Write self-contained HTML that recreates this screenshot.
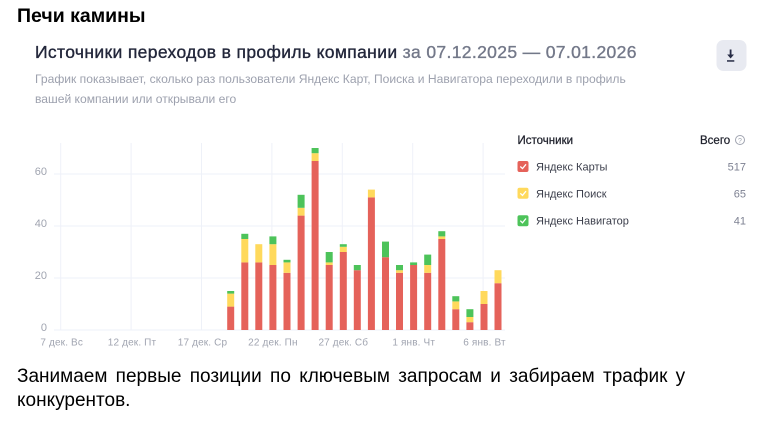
<!DOCTYPE html>
<html><head><meta charset="utf-8">
<style>
html,body{margin:0;padding:0;background:#fff;width:769px;height:423px;overflow:hidden;}
body{position:relative;font-family:"Liberation Sans","Noto Sans CJK SC",sans-serif;}
.t{position:absolute;white-space:nowrap;}
#title{left:17px;top:5px;font-size:19.5px;font-weight:bold;color:#000;line-height:22px;}
#head{left:35px;top:41px;font-size:17.5px;letter-spacing:0.35px;line-height:22px;color:#22263a;-webkit-text-stroke:0.35px #22263a;}
#head span{color:#737889;-webkit-text-stroke:0.35px #737889;}
#sub{left:35px;top:70px;font-size:12.1px;line-height:19.5px;color:#9da1ae;white-space:normal;width:640px;}
#bottom{left:17px;top:365px;font-size:19px;word-spacing:3px;line-height:24px;color:#000;white-space:normal;width:745px;}
svg{position:absolute;left:0;top:0;}
</style></head><body>
<div class="t" id="title">Печи камины</div>
<div class="t" id="head">Источники переходов в профиль компании <span>за 07.12.2025 — 07.01.2026</span></div>
<div class="t" id="sub">График показывает, сколько раз пользователи Яндекс Карт, Поиска и Навигатора переходили в профиль<br>вашей компании или открывали его</div>
<svg width="769" height="423" viewBox="0 0 769 423" xmlns="http://www.w3.org/2000/svg" font-family="Liberation Sans, sans-serif">
  <!-- download button -->
  <rect x="716.5" y="40" width="30" height="31" rx="7" fill="#e8eaf1"/>
  <rect x="729.7" y="49.5" width="1.8" height="5.5" fill="#262b45"/>
  <polygon points="727.2,54.5 734,54.5 730.6,58.5" fill="#262b45"/>
  <rect x="727" y="60.2" width="7.3" height="1.5" fill="#262b45"/>

  <!-- gridlines -->
  <g stroke="#eef1f8" stroke-width="1">
    <line x1="54" y1="330" x2="505" y2="330"/>
    <line x1="54" y1="278" x2="505" y2="278"/>
    <line x1="54" y1="226" x2="505" y2="226"/>
    <line x1="54" y1="174" x2="505" y2="174"/>
    <line x1="60.7" y1="143" x2="60.7" y2="330"/>
    <line x1="131.1" y1="143" x2="131.1" y2="330"/>
    <line x1="201.5" y1="143" x2="201.5" y2="330"/>
    <line x1="271.9" y1="143" x2="271.9" y2="330"/>
    <line x1="342.3" y1="143" x2="342.3" y2="330"/>
    <line x1="412.7" y1="143" x2="412.7" y2="330"/>
    <line x1="483.1" y1="143" x2="483.1" y2="330"/>
  </g>
  <!-- y labels -->
  <g font-size="11" fill="#a0a4b0" text-anchor="end">
    <text x="47" y="175">60</text>
    <text x="47" y="227">40</text>
    <text x="47" y="279">20</text>
    <text x="47" y="331">0</text>
  </g>
  <!-- x labels -->
  <g font-size="10" letter-spacing="0.15" fill="#a0a4b0" text-anchor="middle">
    <text x="61.7" y="345.5">7 дек. Вс</text>
    <text x="132" y="345.5">12 дек. Пт</text>
    <text x="202.5" y="345.5">17 дек. Ср</text>
    <text x="272.9" y="345.5">22 дек. Пн</text>
    <text x="343.3" y="345.5">27 дек. Сб</text>
    <text x="413.7" y="345.5">1 янв. Чт</text>
    <text x="484.5" y="345.5">6 янв. Вт</text>
  </g>
  <!-- bars -->
  <g fill="#e5625a">
    <rect x="227.2" y="306.6" width="7" height="23.4"/>
    <rect x="241.3" y="262.4" width="7" height="67.6"/>
    <rect x="255.3" y="262.4" width="7" height="67.6"/>
    <rect x="269.4" y="265" width="7" height="65"/>
    <rect x="283.5" y="272.8" width="7" height="57.2"/>
    <rect x="297.6" y="215.6" width="7" height="114.4"/>
    <rect x="311.6" y="161" width="7" height="169"/>
    <rect x="325.7" y="265" width="7" height="65"/>
    <rect x="339.8" y="252" width="7" height="78"/>
    <rect x="353.8" y="270.2" width="7" height="59.8"/>
    <rect x="367.9" y="197.4" width="7" height="132.6"/>
    <rect x="382.0" y="257.2" width="7" height="72.8"/>
    <rect x="396.0" y="272.8" width="7" height="57.2"/>
    <rect x="410.1" y="265" width="7" height="65"/>
    <rect x="424.2" y="272.8" width="7" height="57.2"/>
    <rect x="438.3" y="239" width="7" height="91"/>
    <rect x="452.3" y="309.2" width="7" height="20.8"/>
    <rect x="466.4" y="322.2" width="7" height="7.8"/>
    <rect x="480.5" y="304" width="7" height="26"/>
    <rect x="494.5" y="283.2" width="7" height="46.8"/>
  </g>
  <g fill="#ffd95c">
    <rect x="227.2" y="293.6" width="7" height="13"/>
    <rect x="241.3" y="239" width="7" height="23.4"/>
    <rect x="255.3" y="244.2" width="7" height="18.2"/>
    <rect x="269.4" y="244.2" width="7" height="20.8"/>
    <rect x="283.5" y="262.4" width="7" height="10.4"/>
    <rect x="297.6" y="207.8" width="7" height="7.8"/>
    <rect x="311.6" y="153.2" width="7" height="7.8"/>
    <rect x="325.7" y="262.4" width="7" height="2.6"/>
    <rect x="339.8" y="246.8" width="7" height="5.2"/>
    <rect x="367.9" y="189.6" width="7" height="7.8"/>
    <rect x="396.0" y="270.2" width="7" height="2.6"/>
    <rect x="424.2" y="265" width="7" height="7.8"/>
    <rect x="438.3" y="236.4" width="7" height="2.6"/>
    <rect x="452.3" y="301.4" width="7" height="7.8"/>
    <rect x="466.4" y="317" width="7" height="5.2"/>
    <rect x="480.5" y="291" width="7" height="13"/>
    <rect x="494.5" y="270.2" width="7" height="13"/>
  </g>
  <g fill="#4dc35a">
    <rect x="227.2" y="291" width="7" height="2.6"/>
    <rect x="241.3" y="233.8" width="7" height="5.2"/>
    <rect x="269.4" y="236.4" width="7" height="7.8"/>
    <rect x="283.5" y="259.8" width="7" height="2.6"/>
    <rect x="297.6" y="194.8" width="7" height="13"/>
    <rect x="311.6" y="148" width="7" height="5.2"/>
    <rect x="325.7" y="252" width="7" height="10.4"/>
    <rect x="339.8" y="244.2" width="7" height="2.6"/>
    <rect x="353.8" y="265" width="7" height="5.2"/>
    <rect x="382.0" y="241.6" width="7" height="15.6"/>
    <rect x="396.0" y="265" width="7" height="5.2"/>
    <rect x="410.1" y="262.4" width="7" height="2.6"/>
    <rect x="424.2" y="254.6" width="7" height="10.4"/>
    <rect x="438.3" y="231.2" width="7" height="5.2"/>
    <rect x="452.3" y="296.2" width="7" height="5.2"/>
    <rect x="466.4" y="309.2" width="7" height="7.8"/>
  </g>

  <!-- legend -->
  <g font-size="11">
    <text x="517.5" y="144" font-size="11.5" fill="#21232e" stroke="#21232e" stroke-width="0.25">Источники</text>
    <text x="700" y="144" font-size="11.5" fill="#21232e" stroke="#21232e" stroke-width="0.25">Всего</text>
    <circle cx="740" cy="140" r="4.5" fill="none" stroke="#a0a4b0" stroke-width="1"/>
    <text x="740" y="142.8" font-size="7" fill="#a0a4b0" text-anchor="middle">?</text>

    <rect x="517.5" y="161" width="11" height="11" rx="2" fill="#e5625a"/>
    <polyline points="520.3,166.5 522.5,168.6 526,164.3" fill="none" stroke="#fff" stroke-width="1.3"/>
    <text x="536" y="170.5" fill="#3a3d4a">Яндекс Карты</text>
    <text x="746" y="170.5" fill="#7d8192" text-anchor="end">517</text>

    <rect x="517.5" y="187.8" width="11" height="11" rx="2" fill="#ffd95c"/>
    <polyline points="520.3,193.3 522.5,195.4 526,191.1" fill="none" stroke="#fff" stroke-width="1.3"/>
    <text x="536" y="197.3" fill="#3a3d4a">Яндекс Поиск</text>
    <text x="746" y="197.3" fill="#7d8192" text-anchor="end">65</text>

    <rect x="517.5" y="215.2" width="11" height="11" rx="2" fill="#4dc35a"/>
    <polyline points="520.3,220.7 522.5,222.8 526,218.5" fill="none" stroke="#fff" stroke-width="1.3"/>
    <text x="536" y="224.7" fill="#3a3d4a">Яндекс Навигатор</text>
    <text x="746" y="224.7" fill="#7d8192" text-anchor="end">41</text>
  </g>
</svg>
<div class="t" id="bottom">Занимаем первые позиции по ключевым запросам и забираем трафик у<br>конкурентов.</div>
</body></html>
